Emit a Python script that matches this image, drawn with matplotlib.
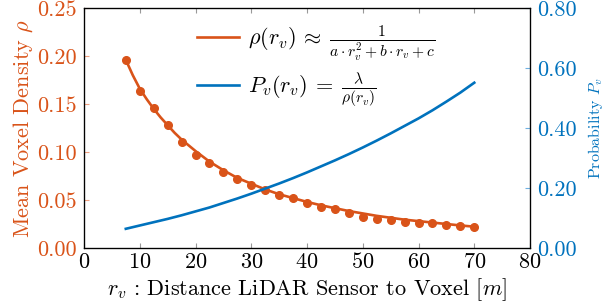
import matplotlib
matplotlib.use('Agg')
import matplotlib.pyplot as plt
from matplotlib.ticker import FormatStrFormatter

plt.rcParams['font.family'] = 'serif'
plt.rcParams['font.serif'] = ['cmr10']
plt.rcParams['mathtext.fontset'] = 'cm'
plt.rcParams['axes.formatter.use_mathtext'] = True

orange = '#D95319'
blue = '#0072BD'

# measured density (dots)
dist = [7.5, 10, 12.5, 15, 17.5, 20, 22.5, 25, 27.5, 30, 32.5, 35, 37.5,
        40, 42.5, 45, 47.5, 50, 52.5, 55, 57.5, 60, 62.5, 65, 67.5, 70]
density = [0.196, 0.1635, 0.1455, 0.128, 0.110, 0.097, 0.089, 0.079, 0.0715,
           0.0656, 0.0604, 0.0552, 0.0517, 0.0472, 0.0424, 0.0406, 0.0368,
           0.0326, 0.0306, 0.0292, 0.0274, 0.0257, 0.0257, 0.0240, 0.0233, 0.0219]

# fitted density curve
fit_dist = [7.5, 8.75, 10, 11.25, 12.5, 13.75, 15, 16.25, 17.5, 20, 22.5, 25,
            27.5, 30, 32.5, 35, 37.5, 40, 42.5, 45, 47.5, 50, 52.5, 55, 57.5,
            60, 62.5, 65, 67.5, 70]
fit_density = [0.196, 0.180, 0.166, 0.155, 0.145, 0.136, 0.128, 0.120, 0.113,
               0.101, 0.090, 0.081, 0.073, 0.067, 0.061, 0.056, 0.052, 0.048,
               0.0445, 0.0415, 0.0385, 0.036, 0.0335, 0.0315, 0.0295, 0.028,
               0.0265, 0.025, 0.0235, 0.0222]

# probability curve
prob = [0.064, 0.075, 0.086, 0.097, 0.109, 0.122, 0.135, 0.150, 0.165,
        0.181, 0.198, 0.215, 0.233, 0.252, 0.272, 0.292, 0.313, 0.335,
        0.358, 0.382, 0.407, 0.432, 0.459, 0.488, 0.518, 0.551]

fig = plt.figure(figsize=(6.1, 3.08), dpi=100)
ax = fig.add_axes([0.1377, 0.1948, 0.7312, 0.7792])
ax2 = ax.twinx()

l1, = ax.plot(fit_dist, fit_density, color=orange, lw=1.9,
              label=r'$\rho(r_v)\:\approx\:\frac{1}{a\cdot r_v^2+b\cdot r_v+c}$')
ax.plot(dist, density, 'o', color=orange, ms=5.5)
l2, = ax2.plot(dist, prob, color=blue, lw=1.9,
               label=r'$P_v(r_v)\:=\:\frac{\lambda}{\rho(r_v)}$')

ax.set_xlim(0, 80)
ax.set_ylim(0, 0.25)
ax2.set_ylim(0, 0.8)
ax.set_xticks(range(0, 81, 10))
ax.set_yticks([0, 0.05, 0.10, 0.15, 0.20, 0.25])
ax2.set_yticks([0, 0.2, 0.4, 0.6, 0.8])
ax.yaxis.set_major_formatter(FormatStrFormatter('%.2f'))
ax2.yaxis.set_major_formatter(FormatStrFormatter('%.2f'))

ax.tick_params(axis='x', direction='in', top=True, labelsize=16, color='#999999', pad=3)
ax.tick_params(axis='y', direction='in', labelsize=16, colors=orange, pad=5)
ax2.tick_params(axis='y', direction='in', labelsize=16, colors=blue, pad=5)
ax.tick_params(axis='y', color='#F0A080')
ax2.tick_params(axis='y', color='#70B0E0')

ax.set_xlabel(r'$r_v$ : Distance LiDAR Sensor to Voxel $[m]$', fontsize=16, labelpad=3)
ax.set_ylabel(r'Mean Voxel Density $\rho$', fontsize=16, color=orange, labelpad=2)
ax2.set_ylabel(r'Probability $P_v$', fontsize=11.5, color=blue, labelpad=7)

for s in ax2.spines.values():
    s.set_linewidth(0.9)

ax.legend(handles=[l1, l2], loc='upper center', frameon=False, fontsize=16,
          bbox_to_anchor=(0.52, 1.02), handlelength=1.9, labelspacing=0.35,
          handletextpad=0.4)

fig.savefig('out.png', dpi=100)
